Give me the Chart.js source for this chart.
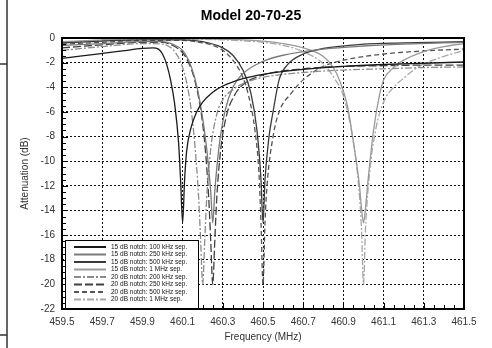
<!DOCTYPE html>
<html>
<head>
<meta charset="utf-8">
<script src="https://cdn.jsdelivr.net/npm/chart.js@4.4.0/dist/chart.umd.min.js"></script>
<style>
  html, body { margin: 0; padding: 0; background: #fff; }
</style>
</head>
<body>
<canvas id="graficaNotch" width="492" height="348"></canvas>
<script>
const titulo = 'Model 20-70-25';
const xTicks = [459.5, 459.7, 459.9, 460.1, 460.3, 460.5, 460.7, 460.9, 461.1, 461.3, 461.5];
const yTicks = [0, -2, -4, -6, -8, -10, -12, -14, -16, -18, -20, -22];

const etiquetas = [
    '15 dB notch: 100 kHz sep.',
    '15 dB notch: 250 kHz sep.',
    '15 dB notch: 500 kHz sep.',
    '15 dB notch: 1 MHz sep.',
    '20 dB notch: 200 kHz sep.',
    '20 dB notch: 250 kHz sep.',
    '20 dB notch: 500 kHz sep.',
    '20 dB notch: 1 MHz sep.'
];

// 15 dB notch, 100 kHz
const f15_100 = [459.5, 459.6, 459.7, 459.8, 459.9, 459.95, 459.98, 460.0, 460.02, 460.04, 460.06, 460.08, 460.09, 460.1, 460.11, 460.12, 460.14, 460.17, 460.2, 460.25, 460.3, 460.4, 460.5, 460.7, 460.9, 461.1, 461.3, 461.5];
const a15_100 = [-1.65, -1.45, -1.25, -1.05, -0.85, -0.8, -0.9, -1.3, -2.1, -3.4, -5.3, -8.5, -11.5, -15, -11.5, -9.2, -7.4, -6.0, -5.2, -4.4, -3.9, -3.3, -2.95, -2.55, -2.3, -2.15, -2.05, -1.95];

// 15 dB notch, 250 kHz
const f15_250 = [459.5, 459.7, 459.9, 460.0, 460.05, 460.1, 460.13, 460.16, 460.19, 460.22, 460.24, 460.25, 460.26, 460.28, 460.31, 460.35, 460.4, 460.5, 460.6, 460.8, 461.0, 461.2, 461.5];
const a15_250 = [-0.6, -0.45, -0.3, -0.3, -0.5, -1.0, -1.8, -3.2, -5.5, -9, -12.5, -15, -12.5, -9, -6, -4.0, -2.9, -1.9, -1.4, -0.9, -0.65, -0.5, -0.35];

// 15 dB notch, 500 kHz
const f15_500 = [459.5, 459.7, 459.9, 460.1, 460.2, 460.3, 460.35, 460.4, 460.44, 460.47, 460.49, 460.5, 460.51, 460.53, 460.55, 460.58, 460.62, 460.7, 460.8, 461.0, 461.2, 461.5];
const a15_500 = [-0.4, -0.25, -0.15, -0.15, -0.3, -0.8, -1.4, -2.6, -4.5, -7.5, -11.5, -15, -11.5, -8, -6, -3.4, -2.2, -1.3, -0.85, -0.5, -0.4, -0.3];

// 15 dB notch, 1 MHz
const f15_1M = [459.5, 459.7, 459.9, 460.1, 460.3, 460.5, 460.6, 460.7, 460.8, 460.85, 460.88, 460.92, 460.95, 460.98, 460.99, 461.0, 461.01, 461.02, 461.05, 461.08, 461.1, 461.15, 461.2, 461.3, 461.4, 461.5];
const a15_1M = [-0.3, -0.15, -0.05, -0.05, -0.1, -0.25, -0.45, -0.8, -1.5, -2.4, -3.4, -5.5, -8.5, -12, -13.8, -15, -13.8, -12, -7.5, -4.6, -3.4, -2.4, -1.8, -1.1, -0.7, -0.45];

// 20 dB notch, 200 kHz
const f20_200 = [459.5, 459.7, 459.9, 460.0, 460.05, 460.08, 460.1, 460.12, 460.14, 460.16, 460.18, 460.19, 460.2, 460.21, 460.22, 460.24, 460.27, 460.3, 460.35, 460.4, 460.5, 460.7, 460.9, 461.1, 461.3, 461.5];
const a20_200 = [-1.0, -0.7, -0.45, -0.5, -0.9, -1.6, -2.4, -3.6, -5.5, -8.5, -13, -16.5, -20, -16.5, -13, -9, -6.2, -5.0, -4.2, -3.7, -3.2, -2.8, -2.6, -2.5, -2.4, -2.35];

// 20 dB notch, 250 kHz
const f20_250 = [459.5, 459.7, 459.9, 460.0, 460.05, 460.1, 460.13, 460.16, 460.19, 460.21, 460.23, 460.24, 460.25, 460.26, 460.27, 460.29, 460.32, 460.36, 460.4, 460.5, 460.7, 460.9, 461.1, 461.3, 461.5];
const a20_250 = [-0.8, -0.55, -0.35, -0.35, -0.6, -1.2, -2.0, -3.4, -5.8, -8.5, -13, -16.5, -20, -16.5, -13, -9, -6.2, -4.6, -3.8, -3.0, -2.5, -2.3, -2.25, -2.2, -2.2];

// 20 dB notch, 500 kHz
const f20_500 = [459.5, 459.7, 459.9, 460.1, 460.2, 460.25, 460.3, 460.35, 460.4, 460.43, 460.46, 460.48, 460.49, 460.5, 460.51, 460.52, 460.55, 460.58, 460.64, 460.7, 460.8, 460.9, 461.1, 461.3, 461.5];
const a20_500 = [-0.5, -0.35, -0.2, -0.2, -0.4, -0.6, -1.0, -1.8, -3.2, -4.8, -7.5, -11, -15, -20, -15, -12, -8, -6, -4.5, -3.4, -2.3, -1.8, -1.3, -1.05, -0.9];

// 20 dB notch, 1 MHz
const f20_1M = [459.5, 459.7, 459.9, 460.1, 460.3, 460.5, 460.6, 460.7, 460.8, 460.86, 460.9, 460.94, 460.97, 460.99, 461.0, 461.01, 461.03, 461.06, 461.1, 461.15, 461.19, 461.25, 461.3, 461.4, 461.5];
const a20_1M = [-0.35, -0.2, -0.1, -0.1, -0.15, -0.35, -0.6, -1.1, -2.1, -3.4, -4.7, -7.5, -11, -15.5, -20, -15.5, -11, -7.5, -5.2, -4.0, -3.4, -2.6, -2.1, -1.5, -1.0];

const frecuencias = [f15_100, f15_250, f15_500, f15_1M, f20_200, f20_250, f20_500, f20_1M];
const atenuaciones = [a15_100, a15_250, a15_500, a15_1M, a20_200, a20_250, a20_500, a20_1M];

const colores = ['#1a1a1a', '#7a7a7a', '#3a3a3a', '#9a9a9a', '#8c8c8c', '#404040', '#555555', '#a8a8a8'];
const guiones = [[], [], [], [], [7, 2, 2, 2], [8, 3], [5, 3], [7, 2, 2, 2]];

Chart.defaults.font.family = "'Liberation Sans', Arial, sans-serif";

const datasets = etiquetas.map((label, i) => ({
    label: label,
    data: frecuencias[i].map((f, j) => ({ x: f, y: atenuaciones[i][j] })),
    borderColor: colores[i],
    borderDash: guiones[i],
    borderWidth: 1.3,
    pointRadius: 0,
    fill: false,
    cubicInterpolationMode: 'monotone'
}));

const marcoPlugin = {
    id: 'marco',
    afterDraw(chart) {
        const ctx = chart.ctx;
        const a = chart.chartArea;
        const xs = chart.scales.x;
        const ys = chart.scales.y;
        ctx.save();

        // titulo
        ctx.fillStyle = '#000';
        ctx.font = "bold 14px 'Liberation Sans', Arial, sans-serif";
        ctx.textAlign = 'center';
        ctx.textBaseline = 'middle';
        ctx.fillText(titulo, 251, 16);

        // marcas menores hacia dentro
        ctx.strokeStyle = '#000';
        ctx.lineWidth = 1;
        ctx.beginPath();
        for (let k = 0; k <= 40; k++) {
            const px = Math.round(xs.getPixelForValue(459.5 + k * 0.05)) + 0.5;
            const len = k % 4 === 0 ? 6 : 4;
            ctx.moveTo(px, a.bottom);
            ctx.lineTo(px, a.bottom - len);
        }
        for (let k = 0; k <= 44; k++) {
            const py = Math.round(ys.getPixelForValue(-k * 0.5)) + 0.5;
            const len = k % 4 === 0 ? 6 : 4;
            ctx.moveTo(a.left, py);
            ctx.lineTo(a.left + len, py);
        }
        ctx.stroke();

        // marco
        ctx.lineWidth = 2;
        ctx.strokeRect(a.left, a.top, a.right - a.left, a.bottom - a.top);

        // leyenda
        const lx = 65, ly = 240, lw = 133, lh = 68;
        ctx.fillStyle = '#fff';
        ctx.fillRect(lx, ly, lw, lh);
        ctx.lineWidth = 1;
        ctx.strokeStyle = '#000';
        ctx.strokeRect(lx + 0.5, ly + 0.5, lw, lh);
        ctx.font = "6.5px 'Liberation Sans', Arial, sans-serif";
        ctx.textAlign = 'left';
        ctx.textBaseline = 'middle';
        chart.data.datasets.forEach((ds, i) => {
            const y = ly + 7 + i * 7.5;
            ctx.strokeStyle = ds.borderColor;
            ctx.lineWidth = 2;
            ctx.setLineDash(ds.borderDash);
            ctx.beginPath();
            ctx.moveTo(74, y);
            ctx.lineTo(106, y);
            ctx.stroke();
            ctx.setLineDash([]);
            ctx.fillStyle = '#111';
            ctx.fillText(ds.label, 111, y);
        });

        // bordes del escaneo a la izquierda
        ctx.strokeStyle = '#333';
        ctx.lineWidth = 1.5;
        ctx.beginPath();
        ctx.moveTo(7, 0);
        ctx.lineTo(7, 348);
        ctx.moveTo(0, 64);
        ctx.lineTo(7, 64);
        ctx.moveTo(0, 335);
        ctx.lineTo(7, 335);
        ctx.stroke();

        ctx.restore();
    }
};

new Chart(document.getElementById('graficaNotch').getContext('2d'), {
    type: 'line',
    data: { datasets: datasets },
    options: {
        responsive: false,
        animation: false,
        layout: { padding: { left: 0, right: 28, top: 38, bottom: 0 } },
        plugins: {
            legend: { display: false },
            title: { display: false },
            tooltip: { enabled: false }
        },
        scales: {
            x: {
                type: 'linear',
                min: 459.5,
                max: 461.5,
                afterBuildTicks: (s) => { s.ticks = xTicks.map(v => ({ value: v })); },
                afterFit: (s) => { s.height = 39; },
                grid: { color: '#111', lineWidth: 1, drawTicks: false },
                border: { display: false, dash: [2, 2] },
                ticks: {
                    padding: 7,
                    color: '#333',
                    font: { size: 10 },
                    maxRotation: 0,
                    autoSkip: false,
                    callback: (v) => Number(v).toFixed(1)
                },
                title: {
                    display: true,
                    text: 'Frequency (MHz)',
                    color: '#333',
                    font: { size: 10 },
                    padding: { top: 0, bottom: 5 }
                }
            },
            y: {
                type: 'linear',
                min: -22,
                max: 0,
                afterBuildTicks: (s) => { s.ticks = yTicks.map(v => ({ value: v })); },
                afterFit: (s) => { s.width = 62; },
                grid: { color: '#111', lineWidth: 1, drawTicks: false },
                border: { display: false, dash: [2, 2] },
                ticks: {
                    padding: 7,
                    color: '#333',
                    font: { size: 10 },
                    callback: (v) => String(v)
                },
                title: {
                    display: true,
                    text: 'Attenuation (dB)',
                    color: '#333',
                    font: { size: 10 },
                    padding: { top: 19, bottom: 0 }
                }
            }
        }
    },
    plugins: [marcoPlugin]
});
</script>
</body>
</html>
